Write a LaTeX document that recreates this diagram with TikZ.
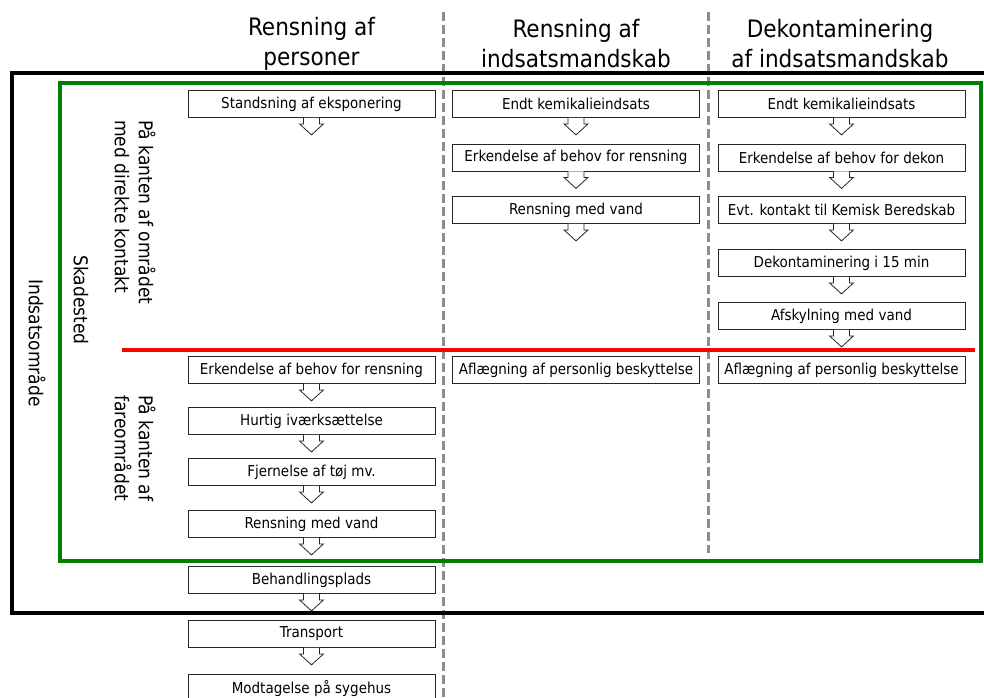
\documentclass[tikz,border=0pt]{standalone}
\usepackage{fontspec}
\setmainfont{DejaVu Sans Condensed}
\begin{document}
\begin{tikzpicture}[x=1pt,y=-1pt,
  stepbox/.style={draw=black!85,line width=0.8pt,fill=white,minimum width=247pt,minimum height=27pt,inner sep=0pt,font=\fontsize{15}{18}\selectfont},
  heading/.style={align=center,inner sep=0pt,font=\fontsize{24}{30}\selectfont},
  sidelabel/.style={rotate=-90,inner sep=0pt,font=\fontsize{19}{24}\selectfont},
  arrowshape/.style={draw=black!85,line width=0.8pt,fill=white,line join=miter},
  coldiv/.style={draw=black!45,line width=3pt,dash pattern=on 9pt off 4pt}]
\useasboundingbox (0,0) rectangle (984,697);
\clip (0,0) rectangle (984,697);
\newcommand\blockarrow[1]{\draw[arrowshape] ([xshift=-8pt]#1.south) -- ++(0,6) -- ++(-4,0) -- ++(12,11) -- ++(12,-11) -- ++(-4,0) -- ++(0,-6);}
% column dividers
\coordinate (d1t) at (443,12); \coordinate (d1b) at (443,697);
\coordinate (d2t) at (708,12); \coordinate (d2b) at (708,553);
\draw[coldiv] (d1t) -- (d1b);
\draw[coldiv] (d2t) -- (d2b);
% headings
\node[heading] (h1) at (311.5,44) {Rensning af\\personer};
\node[heading] (h2) at (576,44) {Rensning af\\indsatsmandskab};
\node[heading] (h3) at (840,44) {Dekontaminering\\af indsatsmandskab};
% areas
\draw[black,line width=4pt] (12,73) rectangle (1000,613);
\draw[green!50!black,line width=4pt] (60,83) rectangle (981,561);
\coordinate (redL) at (122,350); \coordinate (redR) at (975,350);
\draw[red,line width=4pt] (redL) -- (redR);
% side labels
\node[sidelabel] (lblA) at (37,343) {Indsatsområde};
\node[sidelabel] (lblB) at (81,300) {Skadested};
\node[sidelabel,anchor=west,align=left] (lblC) at (135,120) {På kanten af området\\med direkte kontakt};
\node[sidelabel,anchor=west,align=left] (lblD) at (135,395) {På kanten af\\fareområdet};
% column 1
\node[stepbox] (a1) at (311.5,104) {Standsning af eksponering};
\node[stepbox] (a2) at (311.5,370) {Erkendelse af behov for rensning};
\node[stepbox] (a3) at (311.5,421) {Hurtig iværksættelse};
\node[stepbox] (a4) at (311.5,472) {Fjernelse af tøj mv.};
\node[stepbox] (a5) at (311.5,524) {Rensning med vand};
\node[stepbox] (a6) at (311.5,580) {Behandlingsplads};
\node[stepbox] (a7) at (311.5,634) {Transport};
\node[stepbox] (a8) at (311.5,688) {Modtagelse på sygehus};
% column 2
\node[stepbox] (b1) at (576,104) {Endt kemikalieindsats};
\node[stepbox] (b2) at (576,157.5) {Erkendelse af behov for rensning};
\node[stepbox] (b3) at (576,210) {Rensning med vand};
\node[stepbox] (b4) at (576,370) {Aflægning af personlig beskyttelse};
% column 3
\node[stepbox] (c1) at (841.5,104) {Endt kemikalieindsats};
\node[stepbox] (c2) at (841.5,157.5) {Erkendelse af behov for dekon};
\node[stepbox] (c3) at (841.5,210) {Evt. kontakt til Kemisk Beredskab};
\node[stepbox] (c4) at (841.5,263) {Dekontaminering i 15 min};
\node[stepbox] (c5) at (841.5,316) {Afskylning med vand};
\node[stepbox] (c6) at (841.5,370) {Aflægning af personlig beskyttelse};
% block arrows
\foreach \n in {a1,a2,a3,a4,a5,a6,a7,b1,b2,b3,c1,c2,c3,c4,c5}{\blockarrow{\n}}
\end{tikzpicture}
\end{document}
